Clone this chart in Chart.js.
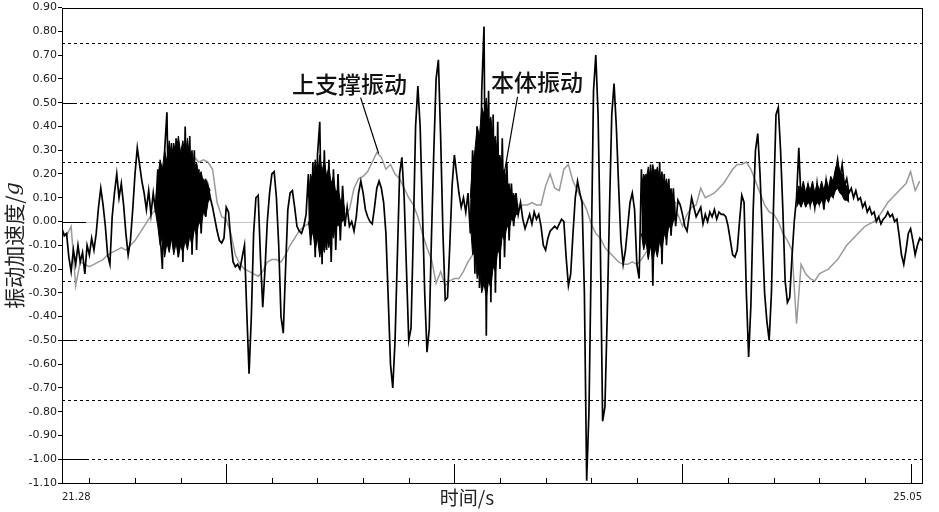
<!DOCTYPE html>
<html>
<head>
<meta charset="utf-8">
<script src="https://cdn.jsdelivr.net/npm/chart.js@4.4.1/dist/chart.umd.min.js"></script>
<style>
  html, body { margin: 0; padding: 0; background: #fff; }
  #wrap { width: 939px; height: 512px; }
</style>
</head>
<body>
<div id="wrap"><canvas id="vibChart" width="939" height="512"></canvas></div>
<script>
// time window (s) and sampling of the two traces
const T_START = 21.28, T_END = 25.05;
const BODY_STEP = 0.01, SUPPORT_STEP = 0.02;

// 本体振动 (black), one value every 0.01 s from 21.28 s
const bodyVib = [
  -0.03,-0.06,-0.05,-0.15,-0.21,-0.12,-0.18,-0.10,-0.17,-0.13,
  -0.22,-0.10,-0.14,-0.07,-0.12,-0.05,0.06,0.14,0.07,-0.02,
  -0.14,-0.18,0.02,0.12,0.20,0.10,0.16,0.07,-0.05,-0.14,
  -0.08,0.05,0.20,0.31,0.24,0.17,0.12,0.05,0.13,0.03,
  0.12,0.04,0.22,-0.05,-0.20,0.30,0.46,-0.12,0.33,-0.08,
  0.35,-0.15,0.28,-0.17,0.40,-0.10,0.36,-0.14,0.30,-0.12,
  0.22,-0.05,0.18,0.02,0.15,0.10,0.06,0.01,-0.04,-0.08,
  -0.09,-0.07,0.06,0.04,-0.08,-0.17,-0.19,-0.18,-0.20,-0.15,
  -0.10,-0.38,-0.64,-0.40,-0.05,0.10,0.11,-0.15,-0.36,-0.20,
  0.00,0.12,0.20,0.21,0.10,-0.10,-0.40,-0.47,-0.20,0.05,
  0.12,0.13,0.06,-0.02,-0.04,-0.05,-0.02,0.03,0.20,-0.10,
  0.25,-0.15,0.28,0.42,-0.18,0.30,-0.12,0.26,-0.17,0.22,
  -0.12,0.20,-0.08,0.15,-0.02,0.06,-0.02,0.00,-0.04,0.02,
  0.12,0.17,0.12,0.05,0.02,0.00,-0.01,0.06,0.14,0.17,
  0.14,0.08,-0.05,-0.32,-0.60,-0.70,-0.50,-0.15,0.20,0.27,
  0.10,-0.20,-0.50,-0.45,-0.05,0.40,0.57,0.40,0.05,-0.30,
  -0.55,-0.45,-0.05,0.30,0.60,0.68,0.35,-0.05,-0.33,-0.32,
  -0.10,0.15,0.28,0.20,0.12,0.06,0.10,0.04,0.12,-0.05,
  0.30,-0.22,0.40,-0.28,0.55,0.82,-0.48,0.55,-0.34,0.45,
  -0.30,0.42,-0.20,0.35,-0.15,0.25,-0.08,0.16,-0.02,0.12,
  0.03,0.08,0.01,-0.03,0.00,0.03,-0.01,0.04,0.01,0.03,
  -0.02,-0.10,-0.12,-0.07,-0.04,-0.03,-0.02,-0.03,-0.01,0.01,
  0.00,-0.15,-0.27,-0.22,-0.05,0.10,0.17,0.12,0.08,-0.30,
  -1.09,-0.80,-0.15,0.55,0.70,0.45,-0.10,-0.84,-0.78,-0.40,
  0.05,0.45,0.58,0.40,0.15,-0.08,-0.18,-0.12,-0.02,0.08,
  0.12,0.05,-0.18,-0.24,0.22,-0.10,0.20,-0.15,0.24,-0.27,
  0.22,-0.12,0.25,-0.18,0.20,-0.10,0.18,-0.06,0.14,-0.02,
  0.09,0.07,0.03,-0.02,-0.04,0.03,0.10,0.06,0.02,0.04,
  0.06,-0.01,0.03,0.00,0.04,0.02,0.05,0.01,0.04,0.03,
  0.03,0.02,-0.02,-0.08,-0.14,-0.15,-0.12,0.00,0.11,0.08,
  -0.30,-0.57,-0.35,0.05,0.30,0.37,0.20,-0.05,-0.30,-0.42,
  -0.50,-0.30,0.10,0.45,0.48,0.30,0.05,-0.25,-0.34,-0.32,
  -0.15,0.00,0.10,0.31,0.08,0.14,0.09,0.15,0.07,0.13,
  0.06,0.16,0.08,0.14,0.05,0.17,0.10,0.15,0.11,0.20,
  0.26,0.18,0.24,0.15,0.18,0.12,0.14,0.10,0.13,0.09,
  0.10,0.06,0.08,0.04,0.06,0.03,0.04,0.00,0.02,-0.01,
  0.01,0.02,0.04,0.02,0.03,0.00,0.01,-0.06,-0.14,-0.18,
  -0.12,-0.05,-0.03,-0.08,-0.14,-0.10,-0.07,-0.08
];

// solid core of the high-frequency bursts in the black trace:
// first sample index (0.01 s grid), upper and lower edge
const burstStart = [41, 108, 179, 254, 322];
const burstUpper = [
  [0.08,0.18,0.26,0.22,0.30,0.25,0.34,0.27,0.33,0.28,0.36,0.29,0.34,0.27,0.35,0.26,0.30,0.22,0.25,0.19,0.21,0.16,0.18,0.15,0.13],
  [0.10,0.20,0.16,0.26,0.20,0.28,0.21,0.26,0.19,0.23,0.16,0.19,0.12,0.14,0.09,0.09,0.05],
  [0.10,0.25,0.30,0.40,0.36,0.48,0.45,0.52,0.42,0.44,0.34,0.36,0.27,0.28,0.21,0.22,0.15,0.16,0.11,0.12,0.08,0.07],
  [0.15,0.20,0.17,0.23,0.18,0.24,0.19,0.23,0.17,0.21,0.15,0.18,0.12,0.14,0.09,0.08],
  [0.10,0.15,0.13,0.17,0.12,0.16,0.13,0.17,0.12,0.16,0.13,0.17,0.13,0.18,0.14,0.19,0.17,0.22,0.25,0.21,0.20,0.16,0.15,0.12]
];
const burstLower = [
  [0.04,-0.02,-0.10,-0.06,-0.15,-0.09,-0.13,-0.07,-0.14,-0.09,-0.15,-0.10,-0.13,-0.08,-0.12,-0.06,-0.10,-0.03,-0.06,0.00,-0.02,0.04,0.02,0.08,0.10],
  [0.00,-0.08,-0.04,-0.12,-0.07,-0.15,-0.09,-0.13,-0.07,-0.11,-0.04,-0.07,-0.01,-0.02,0.01,0.00,0.01],
  [0.00,-0.14,-0.12,-0.24,-0.20,-0.30,-0.26,-0.32,-0.25,-0.28,-0.19,-0.21,-0.12,-0.14,-0.06,-0.08,-0.02,-0.03,0.01,0.00,0.03,0.03],
  [-0.05,-0.12,-0.08,-0.16,-0.10,-0.17,-0.11,-0.15,-0.08,-0.12,-0.05,-0.08,-0.02,-0.03,0.00,0.02],
  [0.06,0.08,0.06,0.09,0.06,0.08,0.07,0.09,0.06,0.08,0.07,0.09,0.07,0.10,0.08,0.11,0.10,0.13,0.14,0.12,0.11,0.09,0.09,0.08]
];

// 上支撑振动 (grey), one value every 0.02 s from 21.28 s
const supportVib = [
  -0.04,-0.06,-0.02,-0.27,-0.17,-0.18,-0.19,-0.18,-0.17,-0.16,
  -0.14,-0.13,-0.12,-0.11,-0.12,-0.10,-0.08,-0.05,-0.02,0.01,
  0.04,0.05,0.07,0.10,0.13,0.17,0.21,0.26,0.29,0.27,
  0.25,0.26,0.25,0.22,0.08,0.02,0.01,-0.05,-0.14,-0.18,
  -0.20,-0.21,-0.22,-0.23,-0.21,-0.17,-0.16,-0.16,-0.17,-0.14,
  -0.10,-0.07,-0.04,-0.02,-0.01,0.00,0.01,0.02,0.02,0.03,
  0.02,0.02,0.03,0.05,0.14,0.18,0.19,0.21,0.25,0.29,
  0.27,0.22,0.24,0.20,0.18,0.14,0.10,0.07,0.02,-0.05,
  -0.11,-0.16,-0.26,-0.21,-0.27,-0.25,-0.24,-0.24,-0.21,-0.17,
  -0.14,-0.13,-0.10,-0.07,-0.04,-0.02,0.00,0.01,0.02,0.04,
  0.05,0.07,0.07,0.08,0.07,0.07,0.15,0.20,0.14,0.13,
  0.22,0.24,0.17,0.13,0.09,0.05,-0.01,-0.05,-0.07,-0.11,
  -0.13,-0.15,-0.17,-0.18,-0.18,-0.17,-0.18,-0.16,-0.13,-0.11,
  -0.09,-0.06,-0.03,0.00,0.02,0.03,-0.02,0.03,0.06,0.07,
  0.14,0.10,0.11,0.12,0.14,0.16,0.19,0.22,0.24,0.24,
  0.25,0.22,0.17,0.12,0.07,0.04,0.03,0.00,-0.05,-0.08,
  -0.12,-0.43,-0.18,-0.22,-0.24,-0.25,-0.22,-0.21,-0.20,-0.18,
  -0.16,-0.13,-0.10,-0.08,-0.06,-0.04,-0.02,-0.01,0.00,0.02,
  0.05,0.08,0.10,0.12,0.14,0.16,0.21,0.13,0.17
];

const Y_MIN = -1.10, Y_MAX = 0.90;
const dashedLevels = [0.75, 0.50, 0.25, -0.25, -0.50, -0.75, -1.00];
const majorSeconds = [22, 23, 24, 25];

const FONT_CJK = '"Noto Sans CJK SC", "Noto Sans", sans-serif';
const FONT_NUM = '"DejaVu Sans", sans-serif';

const notes = [
  { text: '上支撑振动', t: 22.54, v: 0.576, from: [22.589, 0.521], to: [22.668, 0.286] },
  { text: '本体振动', t: 23.362, v: 0.586, from: [23.277, 0.525], to: [23.220, 0.210] }
];

const crisp = p => Math.round(p) + 0.5;
const bodyTime = i => T_START + i * BODY_STEP;

// envelope series on the black trace's time grid, gaps outside the bursts
const envUpper = [], envLower = [];
burstStart.forEach((s, b) => {
  burstUpper[b].forEach((v, k) => envUpper.push({ x: bodyTime(s + k), y: v }));
  burstLower[b].forEach((v, k) => envLower.push({ x: bodyTime(s + k), y: v }));
  envUpper.push({ x: bodyTime(s + burstUpper[b].length) - 0.001, y: null });
  envLower.push({ x: bodyTime(s + burstLower[b].length) - 0.001, y: null });
});

const framePlugin = {
  id: 'frame',
  beforeDatasetsDraw(chart) {
    const { ctx, chartArea: a, scales: { x, y } } = chart;
    ctx.save();
    ctx.lineWidth = 1;
    // zero line
    const pz = crisp(y.getPixelForValue(0));
    ctx.strokeStyle = '#c4c4c4';
    ctx.beginPath(); ctx.moveTo(a.left, pz); ctx.lineTo(a.right, pz); ctx.stroke();
    // dashed reference levels
    ctx.strokeStyle = '#000';
    ctx.setLineDash([3, 3]);
    dashedLevels.forEach(v => {
      const p = crisp(y.getPixelForValue(v));
      ctx.beginPath(); ctx.moveTo(a.left, p); ctx.lineTo(a.right, p); ctx.stroke();
    });
    ctx.setLineDash([]);
    // long ticks on the left at 0.5 steps
    [[0.5, 14], [0, 24], [-0.5, 14], [-1.0, 24]].forEach(([v, len]) => {
      const p = crisp(y.getPixelForValue(v));
      ctx.beginPath(); ctx.moveTo(a.left, p); ctx.lineTo(a.left + len, p); ctx.stroke();
    });
    // time ticks drawn inward from the bottom axis
    x.ticks.forEach((tk, i) => {
      if (i === 0 || i === x.ticks.length - 1) return;
      const px = crisp(x.getPixelForValue(tk.value));
      const major = majorSeconds.some(s => Math.abs(s - tk.value) < 1e-6);
      ctx.beginPath(); ctx.moveTo(px, a.bottom); ctx.lineTo(px, a.bottom - (major ? 19 : 5)); ctx.stroke();
    });
    ctx.restore();
  },
  afterDatasetsDraw(chart) {
    const { ctx, chartArea: a, scales: { x, y } } = chart;
    ctx.save();
    // box
    ctx.strokeStyle = '#000';
    ctx.lineWidth = 1;
    ctx.strokeRect(crisp(a.left), crisp(a.top), Math.round(a.right - a.left), Math.round(a.bottom - a.top));
    // callouts
    ctx.lineWidth = 1.2;
    ctx.fillStyle = '#111';
    ctx.font = '500 23px ' + FONT_CJK;
    ctx.textAlign = 'center';
    ctx.textBaseline = 'middle';
    notes.forEach(n => {
      ctx.beginPath();
      ctx.moveTo(x.getPixelForValue(n.from[0]), y.getPixelForValue(n.from[1]));
      ctx.lineTo(x.getPixelForValue(n.to[0]), y.getPixelForValue(n.to[1]));
      ctx.stroke();
      ctx.fillText(n.text, x.getPixelForValue(n.t), y.getPixelForValue(n.v));
    });
    // axis titles
    ctx.fillStyle = '#222';
    ctx.font = '19px ' + FONT_CJK;
    ctx.fillText('时间/s', 467, 498);
    ctx.translate(14, (a.top + a.bottom) / 2);
    ctx.rotate(-Math.PI / 2);
    const head = '振动加速度/';
    ctx.font = '21px ' + FONT_CJK;
    const w1 = ctx.measureText(head).width;
    ctx.font = 'italic 21px "DejaVu Serif", serif';
    const w2 = ctx.measureText('g').width;
    ctx.textAlign = 'left';
    ctx.font = '21px ' + FONT_CJK;
    ctx.fillText(head, -(w1 + w2) / 2, 0);
    ctx.font = 'italic 21px "DejaVu Serif", serif';
    ctx.fillText('g', -(w1 + w2) / 2 + w1, 0);
    ctx.restore();
  }
};

const tickSeconds = [T_START];
for (let s = 21.4; s < T_END - 0.01; s += 0.2) tickSeconds.push(Math.round(s * 10) / 10);
tickSeconds.push(T_END);

new Chart(document.getElementById('vibChart'), {
  type: 'line',
  data: {
    datasets: [
      {
        label: '本体振动',
        data: bodyVib.map((v, i) => ({ x: bodyTime(i), y: v })),
        borderColor: '#000',
        borderWidth: 1.7,
        pointRadius: 0,
        tension: 0,
        order: 0
      },
      {
        label: 'burst upper',
        data: envUpper,
        borderColor: '#000',
        borderWidth: 1,
        backgroundColor: '#000',
        fill: '+1',
        pointRadius: 0,
        spanGaps: false,
        order: 1
      },
      {
        label: 'burst lower',
        data: envLower,
        borderColor: '#000',
        borderWidth: 1,
        pointRadius: 0,
        spanGaps: false,
        order: 2
      },
      {
        label: '上支撑振动',
        data: supportVib.map((v, i) => ({ x: T_START + i * SUPPORT_STEP, y: v })),
        borderColor: '#9a9a9a',
        borderWidth: 1.5,
        pointRadius: 0,
        tension: 0,
        order: 3
      }
    ]
  },
  options: {
    responsive: false,
    animation: false,
    layout: { padding: { top: 7, right: 17, left: 0, bottom: 0 } },
    plugins: { legend: { display: false }, tooltip: { enabled: false } },
    scales: {
      x: {
        type: 'linear',
        min: T_START,
        max: T_END,
        afterBuildTicks: s => { s.ticks = tickSeconds.map(v => ({ value: v })); },
        afterFit: s => { s.height = 29; },
        grid: { display: false },
        border: { display: false },
        ticks: {
          autoSkip: false,
          maxRotation: 0,
          align: 'inner',
          padding: 0,
          color: '#222',
          font: { family: FONT_NUM, size: 10 },
          callback: (v, i, arr) => (i === 0 || i === arr.length - 1) ? Number(v).toFixed(2) : ''
        }
      },
      y: {
        min: Y_MIN,
        max: Y_MAX,
        afterFit: s => { s.width = 62; },
        border: { display: false },
        grid: { drawOnChartArea: false, drawTicks: true, tickLength: 4, color: '#000' },
        ticks: {
          stepSize: 0.1,
          padding: 1,
          color: '#222',
          font: { family: FONT_NUM, size: 11 },
          callback: v => Math.abs(v) < 1e-9 ? '0.00' : Number(v).toFixed(2)
        }
      }
    }
  },
  plugins: [framePlugin]
});
</script>
</body>
</html>
